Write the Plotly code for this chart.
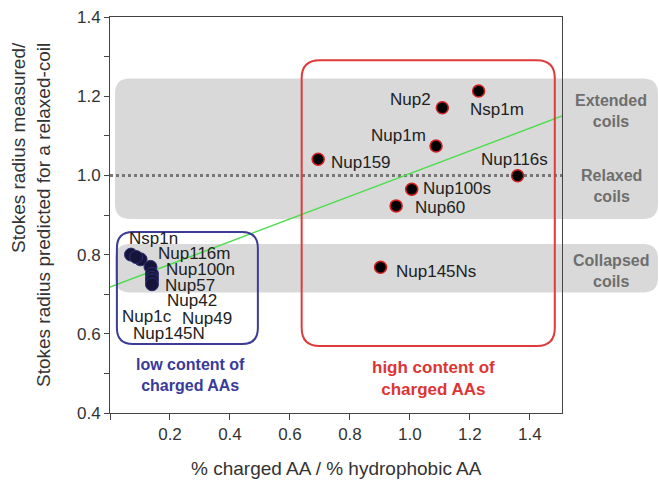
import plotly.graph_objects as go

# ---------------- data ----------------
high_names = ["Nsp1m", "Nup2", "Nup1m", "Nup159", "Nup116s", "Nup100s", "Nup60", "Nup145Ns"]
high_x = [1.229, 1.108, 1.087, 0.694, 1.359, 1.006, 0.954, 0.902]
high_y = [1.213, 1.171, 1.074, 1.041, 0.999, 0.965, 0.923, 0.768]

low_names = ["Nsp1n", "Nup116m", "Nup1c", "Nup100n", "Nup57", "Nup145N", "Nup42", "Nup49"]
low_x = [0.070, 0.102, 0.087, 0.135, 0.140, 0.140, 0.140, 0.140]
low_y = [0.800, 0.788, 0.794, 0.769, 0.751, 0.742, 0.735, 0.725]

fit_x = [0.0, 1.507]
fit_y = [0.718, 1.150]

relaxed_ref = 1.0
band_ranges = [(0.89, 1.245), (0.704, 0.827)]
band_labels = ["Extended<br>coils", "Relaxed<br>coils", "Collapsed<br>coils"]
band_label_y = [1.162, 0.974, 0.759]

low_box = (0.023, 0.493, 0.574, 0.857)
high_box = (0.639, 1.483, 0.569, 1.291)
low_text = "low content of<br>charged AAs"
high_text = "high content of<br>charged AAs"

x_ticks = [0, 0.2, 0.4, 0.6, 0.8, 1.0, 1.2, 1.4]
x_ticktext = ["", "0.2", "0.4", "0.6", "0.8", "1.0", "1.2", "1.4"]
y_ticks = [0.4, 0.6, 0.8, 1.0, 1.2, 1.4]

# ---------------- layout constants ----------------
W, H = 659, 481
ML, MR, MT, MB = 110, 97, 17, 68
PW = W - ML - MR
PH = H - MT - MB
XR = [0, 1.507]
YR = [0.4, 1.4]
FONT = "Liberation Sans, Arial, sans-serif"

# label offsets in pixels (dx right, dy down)
high_off = {"Nsp1m": (18, 18), "Nup2": (-32, -8), "Nup1m": (-38, -11), "Nup159": (43, 3),
            "Nup116s": (-3, -16), "Nup100s": (45, -1), "Nup60": (44, 2), "Nup145Ns": (55, 4)}
low_off = {"Nsp1n": (22, -16), "Nup116m": (53, -6), "Nup100n": (50, 3), "Nup57": (38, 11),
           "Nup42": (40, 20), "Nup1c": (11, 60), "Nup49": (55, 34), "Nup145N": (17, 56)}


def rrect(x0, x1, y0, y1, rx, ry):
    return (f"M {x0+rx},{y0} L {x1-rx},{y0} Q {x1},{y0} {x1},{y0+ry} "
            f"L {x1},{y1-ry} Q {x1},{y1} {x1-rx},{y1} L {x0+rx},{y1} "
            f"Q {x0},{y1} {x0},{y1-ry} L {x0},{y0+ry} Q {x0},{y0} {x0+rx},{y0} Z")


xu = (XR[1] - XR[0]) / PW  # data units per px
yu = (YR[1] - YR[0]) / PH

fig = go.Figure()

shapes = []
for (b0, b1) in band_ranges:
    shapes.append(dict(type="path", xref="paper", yref="y", layer="below",
                       path=rrect(5 / PW, (658 - ML) / PW, b0, b1, 15 / PW, 15 * yu),
                       fillcolor="#d9d9d9", line=dict(width=0)))
shapes.append(dict(type="line", xref="paper", yref="y", x0=0, x1=1, y0=relaxed_ref, y1=relaxed_ref,
                   line=dict(color="#777777", width=3, dash="dot"), layer="below"))
shapes.append(dict(type="path", xref="x", yref="y",
                   path=rrect(low_box[0], low_box[1], low_box[2], low_box[3], 16 * xu, 16 * yu),
                   line=dict(color="#3c3c96", width=2)))
shapes.append(dict(type="path", xref="x", yref="y",
                   path=rrect(high_box[0], high_box[1], high_box[2], high_box[3], 18 * xu, 18 * yu),
                   line=dict(color="#e03a3a", width=2)))

fig.add_trace(go.Scatter(x=fit_x, y=fit_y, mode="lines",
                         line=dict(color="#4ddd4d", width=1.5), hoverinfo="skip"))
fig.add_trace(go.Scatter(x=low_x, y=low_y, mode="markers",
                         marker=dict(size=13, color="#15153c", line=dict(color="#2e2e70", width=1))))
fig.add_trace(go.Scatter(x=high_x, y=high_y, mode="markers",
                         marker=dict(size=12, color="#000000", line=dict(color="#d42020", width=1.5))))

ann = []
lab_font = dict(family=FONT, size=17, color="#222222")
for n, x, y in zip(high_names, high_x, high_y):
    dx, dy = high_off[n]
    ann.append(dict(x=x, y=y, text=n, showarrow=False, xshift=dx, yshift=-dy,
                    xanchor="center", yanchor="middle", font=lab_font))
for n, x, y in zip(low_names, low_x, low_y):
    dx, dy = low_off[n]
    ann.append(dict(x=x, y=y, text=n, showarrow=False, xshift=dx, yshift=-dy,
                    xanchor="center", yanchor="middle", font=lab_font))

for t, y in zip(band_labels, band_label_y):
    ann.append(dict(xref="paper", yref="y", x=(611 - ML) / PW, y=y, text=t, showarrow=False,
                    xanchor="center", yanchor="middle",
                    font=dict(family=FONT, size=16, color="#6e6e6e", weight="bold")))

ann.append(dict(x=(low_box[0] + low_box[1]) / 2 + 0.009, y=0.495, text=low_text, showarrow=False,
                xanchor="center", yanchor="middle",
                font=dict(family=FONT, size=16, color="#3a3a9a", weight="bold")))
ann.append(dict(x=(high_box[0] + high_box[1]) / 2 + 0.017, y=0.488, text=high_text, showarrow=False,
                xanchor="center", yanchor="middle",
                font=dict(family=FONT, size=17, color="#dd3535", weight="bold")))

ann.append(dict(xref="paper", yref="paper", x=(31 - ML) / PW, y=(H - MB - 215) / PH,
                text="Stokes radius measured/<br>Stokes radius predicted for a relaxed-coil",
                textangle=-90, showarrow=False, align="right", xanchor="center", yanchor="middle",
                font=dict(family=FONT, size=19, color="#333333")))
ann.append(dict(xref="paper", yref="paper", x=0.5, y=-(468 - (H - MB)) / PH,
                text="% charged AA / % hydrophobic AA", showarrow=False,
                xanchor="center", yanchor="middle",
                font=dict(family=FONT, size=19, color="#333333")))

fig.update_layout(
    width=W, height=H, margin=dict(l=ML, r=MR, t=MT, b=MB, autoexpand=False),
    paper_bgcolor="white", plot_bgcolor="white", showlegend=False,
    shapes=shapes, annotations=ann,
    font=dict(family=FONT, size=17, color="#333333"),
    xaxis=dict(range=XR, tickvals=x_ticks, ticktext=x_ticktext, showgrid=False, zeroline=False,
               showline=True, linecolor="#444444", linewidth=1, mirror=True, automargin=False,
               ticks="outside", ticklen=6, tickcolor="#444444",
               tickfont=dict(family=FONT, size=17, color="#333333")),
    yaxis=dict(range=YR, tickvals=y_ticks, tickformat=".1f", showgrid=False, zeroline=False,
               showline=True, linecolor="#444444", linewidth=1, mirror=True, automargin=False,
               ticks="outside", ticklen=5, tickcolor="#444444",
               minor=dict(dtick=0.1, tick0=0.4, ticks="outside", ticklen=5, tickcolor="#444444"),
               tickfont=dict(family=FONT, size=17, color="#333333")),
)

fig.write_html("out.html", config={"displayModeBar": False},
               post_script="document.body.style.margin='0';document.body.style.overflow='hidden';")
